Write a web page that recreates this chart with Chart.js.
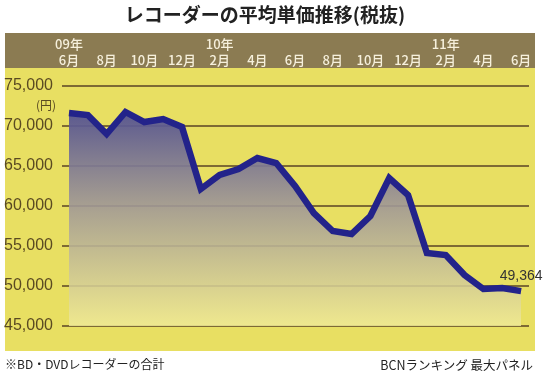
<!DOCTYPE html>
<html>
<head>
<meta charset="utf-8">
<script src="https://cdn.jsdelivr.net/npm/chart.js@4.4.0/dist/chart.umd.min.js"></script>
<style>
    body { margin: 0; background: #fff; }
    #wrap { position: relative; width: 550px; height: 373px; }
    #grafico { position: absolute; left: 0; top: 0; }
    .txt { position: absolute; white-space: nowrap; font-family: "Noto Sans CJK JP", "Liberation Sans", sans-serif; }
    #titulo { left: 0; width: 530px; top: 0px; text-align: center; font-size: 19px; font-weight: 700; color: #222; }
    #notaEsq { left: 5px; top: 355px; font-size: 12px; color: #222; }
    #notaDir { right: 17px; top: 355px; font-size: 12.5px; color: #222; }
</style>
</head>
<body>
<div id="wrap">
    <canvas id="grafico" width="550" height="373"></canvas>
    <div id="titulo" class="txt">レコーダーの平均単価推移(税抜)</div>
    <div id="notaEsq" class="txt">※BD・DVDレコーダーの合計</div>
    <div id="notaDir" class="txt">BCNランキング 最大パネル</div>
</div>
<script>
    // meses exibidos no topo (a cada 2 meses) e o ano quando muda
    var meses = ['6月', '8月', '10月', '12月', '2月', '4月', '6月', '8月', '10月', '12月', '2月', '4月', '6月'];
    var anos = ['09年', '', '', '', '10年', '', '', '', '', '', '11年', '', ''];
    // preço médio mensal, 09/6 até 11/6
    var precos = [71625, 71375, 69000, 71750, 70500, 70875, 69875, 62125, 63875, 64625, 66000, 65375,
        62500, 59125, 56875, 56500, 58750, 63500, 61375, 54125, 53875, 51375, 49625, 49750, 49364];
    var valoresY = [45000, 50000, 55000, 60000, 65000, 70000, 75000];
    var rotuloFinal = '49,364';
    var unidade = '(円)';

    var corTexto = '#5a4a22';

    // fundo marrom do cabeçalho + amarelo da área
    var fundoPlugin = {
        id: 'fundo',
        beforeDraw: function (chart) {
            var ctx = chart.ctx;
            ctx.save();
            ctx.fillStyle = '#8b7b52';
            ctx.fillRect(5, 33, 530, 35);
            ctx.fillStyle = '#e8df62';
            ctx.fillRect(5, 68, 530, 283);
            ctx.restore();
        },
        afterDraw: function (chart) {
            var ctx = chart.ctx;
            var x = chart.scales.x;
            var y = chart.scales.y;
            ctx.save();
            // unidade abaixo do 75,000
            ctx.fillStyle = corTexto;
            ctx.font = '12px "Noto Sans CJK JP"';
            ctx.textAlign = 'right';
            ctx.textBaseline = 'middle';
            ctx.fillText(unidade, 56, y.getPixelForValue(valoresY[valoresY.length - 1]) + 19);
            // valor do último ponto
            var n = precos.length - 1;
            ctx.fillStyle = '#333';
            ctx.font = '14px "Liberation Sans"';
            ctx.textAlign = 'center';
            ctx.fillText(rotuloFinal, x.getPixelForValue(n), y.getPixelForValue(precos[n]) - 15);
            ctx.restore();
        }
    };

    var ctx = document.getElementById('grafico').getContext('2d');
    var myChart = new Chart(ctx, {
        type: 'line',
        data: {
            datasets: [{
                data: precos.map(function (v, i) { return { x: i, y: v }; }),
                borderColor: '#23238a',
                borderWidth: 6.5,
                pointRadius: 0,
                tension: 0,
                fill: 'origin',
                backgroundColor: function (c) {
                    var area = c.chart.chartArea;
                    if (!area) return 'rgba(80,80,150,0.8)';
                    var g = c.chart.ctx.createLinearGradient(0, area.top, 0, area.bottom);
                    g.addColorStop(0, 'rgba(60,60,145,0.95)');
                    g.addColorStop(0.5, 'rgba(160,152,150,0.9)');
                    g.addColorStop(1, 'rgba(240,234,150,0.85)');
                    return g;
                }
            }]
        },
        options: {
            responsive: false,
            animation: false,
            layout: { padding: { left: 0, right: 21, top: 0, bottom: 47 } },
            plugins: { legend: { display: false }, tooltip: { enabled: false } },
            scales: {
                x: {
                    type: 'linear',
                    position: 'top',
                    min: -0.37,
                    max: 24.42,
                    afterFit: function (s) { s.height = 86; },
                    afterBuildTicks: function (s) {
                        s.ticks = meses.map(function (m, k) { return { value: k * 2 }; });
                    },
                    grid: { display: false, drawTicks: false },
                    border: { display: false },
                    ticks: {
                        padding: 17,
                        maxRotation: 0,
                        autoSkip: false,
                        color: '#f6f0dc',
                        font: { family: '"Noto Sans CJK JP"', size: 13, weight: 500, lineHeight: 1.3 },
                        callback: function (value) {
                            var k = Math.round(value / 2);
                            return anos[k] ? [anos[k], meses[k]] : meses[k];
                        }
                    }
                },
                y: {
                    min: valoresY[0],
                    max: valoresY[valoresY.length - 1],
                    afterFit: function (s) { s.width = 62; },
                    afterBuildTicks: function (s) {
                        s.ticks = valoresY.map(function (v) { return { value: v }; });
                    },
                    grid: { color: '#7d6a34', lineWidth: 2, drawTicks: false },
                    border: { display: false },
                    ticks: {
                        padding: 9,
                        color: corTexto,
                        font: { family: '"Liberation Sans"', size: 16 },
                        callback: function (v) { return v.toLocaleString('en-US'); }
                    }
                }
            }
        },
        plugins: [fundoPlugin]
    });
</script>
</body>
</html>
